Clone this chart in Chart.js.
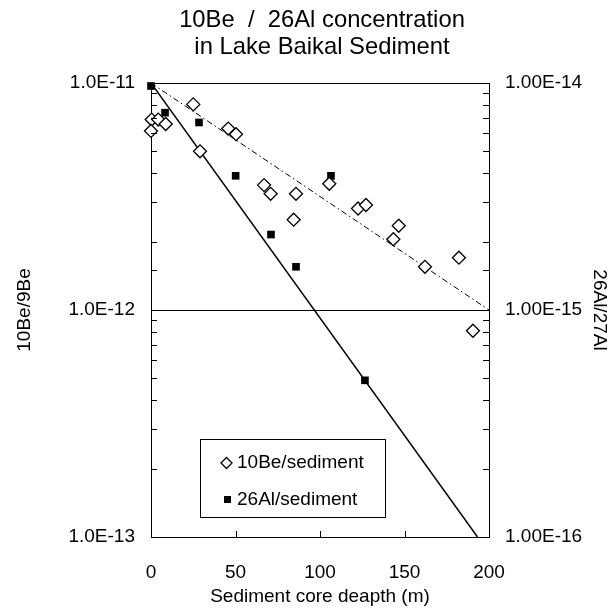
<!DOCTYPE html>
<html>
<head>
<meta charset="utf-8">
<script src="https://cdn.jsdelivr.net/npm/chart.js@4.4.0/dist/chart.umd.min.js"></script>
<style>
body{margin:0;background:#fff;}
</style>
</head>
<body>
<canvas id="chart" width="609" height="611"></canvas>
<script>
// 10Be/9Be measured in the sediment (left axis)
const depthBe = [0.4, 4.3, 8.7, 0, 25, 29, 45.7, 50.3, 66.9, 70.8, 85.8, 84.4, 105.5, 122.5, 127.2, 146.6, 143.4, 162.1, 182.2, 190.5];
const ratioBe = [6.9e-12, 6.9e-12, 6.6e-12, 6.15e-12, 8.05e-12, 5.0e-12, 6.3e-12, 5.95e-12, 3.55e-12, 3.25e-12, 3.25e-12, 2.5e-12, 3.6e-12, 2.8e-12, 2.9e-12, 2.35e-12, 2.05e-12, 1.55e-12, 1.7e-12, 8.1e-13];

// 26Al/27Al measured in the sediment (right axis)
const depthAl = [0, 8.3, 28.4, 50.1, 71, 85.8, 106.5, 126.6];
const ratioAl = [9.7e-15, 7.4e-15, 6.7e-15, 3.9e-15, 2.15e-15, 1.55e-15, 3.9e-15, 4.9e-16];

// decay lines (end points)
const fitBeDepth = [0, 200];
const fitBeRatio = [1e-11, 1e-12];
const fitAlDepth = [0, 193.2];
const fitAlRatio = [1e-14, 1e-16];

const titleLines = ['10Be  /  26Al concentration', 'in Lake Baikal Sediment'];
const legendLabels = ['10Be/sediment', '26Al/sediment'];

Chart.defaults.font.family = "'Liberation Sans', Arial, sans-serif";
Chart.defaults.color = '#000';

function pts(xs, ys){
	return xs.map((x, i) => ({x: x, y: ys[i]}));
}

function isDecade(v){
	let l = Math.log10(v);
	return Math.abs(l - Math.round(l)) < 1e-6;
}

// title centred over the plot area, not the canvas
const plotTitle = {
	id: 'plotTitle',
	afterDraw(chart){
		const ctx = chart.ctx;
		const a = chart.chartArea;
		let cx = (a.left + a.right) / 2 + 2;
		ctx.save();
		ctx.fillStyle = '#000';
		ctx.font = "23.8px 'Liberation Sans', Arial, sans-serif";
		ctx.textAlign = 'center';
		ctx.textBaseline = 'middle';
		ctx.fillText(titleLines[0], cx, 20.5);
		ctx.fillText(titleLines[1], cx, 47.5);
		ctx.restore();
	}
};

// little inward tick marks, like the old excel plot
const tickMarks = {
	id: 'tickMarks',
	afterDraw(chart){
		const ctx = chart.ctx;
		const a = chart.chartArea;
		ctx.save();
		ctx.strokeStyle = '#000';
		ctx.lineWidth = 1;
		ctx.beginPath();
		for (const t of chart.scales.y.ticks){
			let py = Math.round(chart.scales.y.getPixelForValue(t.value)) + 0.5;
			if (py <= a.top + 1 || py >= a.bottom - 1) continue;
			ctx.moveTo(a.left, py); ctx.lineTo(a.left + 6, py);
		}
		for (const t of chart.scales.y2.ticks){
			let py = Math.round(chart.scales.y2.getPixelForValue(t.value)) + 0.5;
			if (py <= a.top + 1 || py >= a.bottom - 1) continue;
			ctx.moveTo(a.right - 6, py); ctx.lineTo(a.right, py);
		}
		for (const t of chart.scales.x.ticks){
			let px = Math.round(chart.scales.x.getPixelForValue(t.value)) + 0.5;
			if (px <= a.left + 1 || px >= a.right - 1) continue;
			ctx.moveTo(px, a.bottom); ctx.lineTo(px, a.bottom - 6);
		}
		ctx.stroke();
		ctx.restore();
	}
};

// legend box sits inside the plot, bottom left
const boxLegend = {
	id: 'boxLegend',
	afterDraw(chart){
		const ctx = chart.ctx;
		const x0 = 200.5, y0 = 439.5, w = 185, h = 78;
		ctx.save();
		ctx.fillStyle = '#fff';
		ctx.fillRect(x0, y0, w, h);
		ctx.strokeStyle = '#000';
		ctx.lineWidth = 1;
		ctx.strokeRect(x0, y0, w, h);

		// diamond
		let cx = 226.5, cy = 463;
		ctx.lineWidth = 1.3;
		ctx.beginPath();
		ctx.moveTo(cx - 5.5, cy); ctx.lineTo(cx, cy - 5.5); ctx.lineTo(cx + 5.5, cy); ctx.lineTo(cx, cy + 5.5);
		ctx.closePath();
		ctx.stroke();
		// square
		ctx.fillStyle = '#000';
		ctx.fillRect(224, 496, 7, 7);

		ctx.font = "19px 'Liberation Sans', Arial, sans-serif";
		ctx.textBaseline = 'middle';
		ctx.textAlign = 'left';
		ctx.fillText(legendLabels[0], 237, 463);
		ctx.fillText(legendLabels[1], 237, 499.5);
		ctx.restore();
	}
};

new Chart(document.getElementById('chart'), {
	type: 'scatter',
	data: {
		datasets: [
			{label: legendLabels[0], data: pts(depthBe, ratioBe), yAxisID: 'y', order: 1, clip: false,
				pointStyle: 'rectRot', pointRadius: 6.5, pointBackgroundColor: '#fff', pointBorderColor: '#000', pointBorderWidth: 1.3},
			{label: legendLabels[1], data: pts(depthAl, ratioAl), yAxisID: 'y2', order: 2, clip: false,
				pointStyle: 'rect', pointRadius: 5.4, pointBackgroundColor: '#000', pointBorderColor: '#000', pointBorderWidth: 0},
			{type: 'line', label: 'Be fit', data: pts(fitBeDepth, fitBeRatio), yAxisID: 'y', order: 3,
				borderColor: '#000', borderWidth: 1, borderDash: [6, 3, 1.5, 3], pointRadius: 0, fill: false},
			{type: 'line', label: 'Al fit', data: pts(fitAlDepth, fitAlRatio), yAxisID: 'y2', order: 4,
				borderColor: '#000', borderWidth: 1.5, pointRadius: 0, fill: false}
		]
	},
	options: {
		responsive: false,
		animation: false,
		layout: {padding: {top: 83, left: 0, right: 0, bottom: 0}},
		plugins: {
			legend: {display: false},
			tooltip: {enabled: false},
			title: {display: false}
		},
		scales: {
			x: {type: 'linear', position: 'bottom', min: 0, max: 200,
				afterFit: s => { s.height = 74; },
				ticks: {stepSize: 50, padding: 24, font: {size: 19}, maxRotation: 0},
				grid: {display: true, drawOnChartArea: false, drawTicks: false},
				border: {display: true, color: '#000', width: 1},
				title: {display: true, text: 'Sediment core deapth (m)', font: {size: 19}, padding: {top: 0, bottom: 3}}
			},
			y: {type: 'logarithmic', position: 'left', min: 1e-13, max: 1e-11,
				afterFit: s => { s.width = 151; },
				ticks: {autoSkip: false, padding: 16, font: {size: 19},
					callback: v => isDecade(v) ? Number(v).toExponential(1).toUpperCase() : ''},
				grid: {drawTicks: false, color: c => (c.tick && isDecade(c.tick.value)) ? '#000' : 'rgba(0,0,0,0)', lineWidth: 1},
				border: {display: true, color: '#000', width: 1},
				title: {display: true, text: '10Be/9Be', font: {size: 19}, padding: {top: 13, bottom: 0}}
			},
			y2: {type: 'logarithmic', position: 'right', min: 1e-16, max: 1e-14,
				afterFit: s => { s.width = 120; },
				ticks: {autoSkip: false, padding: 16, font: {size: 19},
					callback: v => isDecade(v) ? Number(v).toExponential(2).toUpperCase() : ''},
				grid: {display: true, drawOnChartArea: false, drawTicks: false},
				border: {display: true, color: '#000', width: 1},
				title: {display: true, text: '26Al/27Al', font: {size: 19, lineHeight: 1.0}, padding: {top: 0, bottom: 0}}
			}
		}
	},
	plugins: [plotTitle, tickMarks, boxLegend]
});
</script>
</body>
</html>
